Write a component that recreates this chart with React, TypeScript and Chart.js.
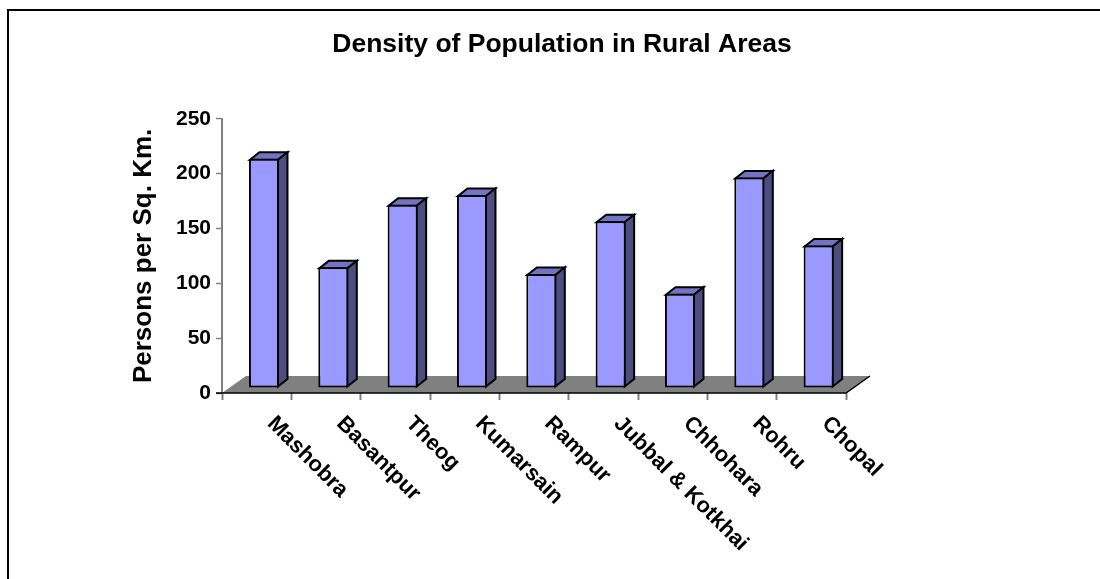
import React, { useEffect, useRef } from "react";
import { Chart, registerables } from "chart.js";

Chart.register(...registerables);

const categories = ["Mashobra", "Basantpur", "Theog", "Kumarsain", "Rampur", "Jubbal & Kotkhai", "Chhohara", "Rohru", "Chopal"];
const density = [209, 110, 167, 176, 104, 152, 86, 192, 130];
const yTicks = [0, 50, 100, 150, 200, 250];

const FONT = "'Liberation Sans', Arial, sans-serif";
const DX = 7.3, DY = -5;      // front face offset from the front plane
const SX = 9.5, SY = -7.5;    // bar depth
const FX = 24, FY = -17;      // floor depth

const depthPlugin = {
  id: "depth",
  afterLayout(chart: any) {
    chart.titleBlock.left = 24;
    chart.titleBlock.right = 1100;
  },
  beforeDraw(chart: any) {
    const { ctx } = chart;
    ctx.save();
    ctx.strokeStyle = "#000";
    ctx.lineWidth = 2;
    ctx.beginPath();
    ctx.moveTo(8, 579);
    ctx.lineTo(8, 10);
    ctx.lineTo(1100, 10);
    ctx.stroke();
    ctx.restore();
    chart.scales.x.getLabelItems().forEach((it: any) => {
      it.options.textAlign = "left";
      if (!it.shifted) {
        it.shifted = true;
        it.options.translation = [it.options.translation[0] + 14, it.options.translation[1]];
      }
    });
  },
  beforeDatasetsDraw(chart: any) {
    const { ctx, chartArea: a } = chart;
    ctx.save();
    ctx.fillStyle = "#808080";
    ctx.strokeStyle = "#000";
    ctx.lineWidth = 1.5;
    ctx.beginPath();
    ctx.moveTo(a.left, a.bottom);
    ctx.lineTo(a.left + FX, a.bottom + FY);
    ctx.lineTo(a.right + FX, a.bottom + FY);
    ctx.lineTo(a.right, a.bottom);
    ctx.closePath();
    ctx.fill();
    ctx.beginPath();
    ctx.moveTo(a.left - 6, a.bottom);
    ctx.lineTo(a.right, a.bottom);
    ctx.lineTo(a.right + FX, a.bottom + FY);
    ctx.stroke();
    ctx.restore();
  },
  beforeDatasetDraw(chart: any) {
    const { ctx } = chart;
    ctx.save();
    ctx.translate(DX, DY);
    ctx.lineJoin = "miter";
    ctx.strokeStyle = "#000";
    ctx.lineWidth = 2;
    chart.getDatasetMeta(0).data.forEach((el: any) => {
      const l = el.x - el.width / 2 + 1, r = el.x + el.width / 2 - 1, t = el.y + 1, b = el.base - 1;
      ctx.beginPath();
      ctx.moveTo(l, t);
      ctx.lineTo(l + SX, t + SY);
      ctx.lineTo(r + SX, t + SY);
      ctx.lineTo(r, t);
      ctx.closePath();
      ctx.fillStyle = "#7373C4";
      ctx.fill();
      ctx.stroke();
      ctx.beginPath();
      ctx.moveTo(r, t);
      ctx.lineTo(r + SX, t + SY);
      ctx.lineTo(r + SX, b + SY);
      ctx.lineTo(r, b);
      ctx.closePath();
      ctx.fillStyle = "#4D4D80";
      ctx.fill();
      ctx.stroke();
    });
    ctx.restore();
    ctx.save();
    ctx.translate(DX, DY);
  },
  afterDatasetDraw(chart: any) {
    chart.ctx.restore();
  },
};

export default function App() {
  const ref = useRef<HTMLCanvasElement | null>(null);
  useEffect(() => {
    const chart = new Chart(ref.current!, {
      type: "bar",
      data: {
        labels: categories,
        datasets: [{
          label: "Density",
          data: density,
          backgroundColor: "#9999FF",
          borderColor: "#000",
          borderWidth: 2,
          borderSkipped: false,
          barPercentage: 0.433,
          categoryPercentage: 1,
          clip: false,
        }],
      },
      plugins: [depthPlugin],
      options: {
        responsive: false,
        animation: false,
        layout: { padding: { top: 0, left: 0, right: 254, bottom: 0 } },
        plugins: {
          legend: { display: false },
          tooltip: { enabled: false },
          title: {
            display: true,
            text: "Density of Population in Rural Areas",
            color: "#000",
            font: { family: FONT, size: 26.5, weight: "bold" },
            padding: { top: 29, bottom: 58 },
          },
        },
        scales: {
          x: {
            afterFit: (s: any) => { s.height = 186; },
            grid: { display: true, drawOnChartArea: false, drawTicks: true, tickLength: 7, tickWidth: 2, tickColor: "#808080", offset: true },
            border: { display: false },
            ticks: {
              autoSkip: false,
              minRotation: -45,
              maxRotation: -45,
              color: "#000",
              padding: 11,
              font: { family: FONT, size: 22, weight: "bold" },
            },
          },
          y: {
            min: 0,
            max: 250,
            afterBuildTicks: (s: any) => { s.ticks = yTicks.map((v) => ({ value: v })); },
            afterFit: (s: any) => { s.width = 222; },
            grid: { display: true, drawOnChartArea: false, drawTicks: true, tickLength: 6, tickWidth: 1.5, tickColor: "#808080" },
            border: { display: true, color: "#808080", width: 2 },
            title: {
              display: true,
              text: "Persons per Sq. Km.",
              color: "#000",
              padding: { top: 128, bottom: 0 },
              font: { family: FONT, size: 26, weight: "bold" },
            },
            ticks: { color: "#000", padding: 5, font: { family: FONT, size: 21, weight: "bold" } },
          },
        },
      },
    } as any);
    return () => chart.destroy();
  }, []);
  return (
    <div style={{ position: "fixed", left: 0, top: 0, width: 1100, height: 579, background: "#fff" }}>
      <canvas ref={ref} width={1100} height={579} style={{ display: "block" }} />
    </div>
  );
}
